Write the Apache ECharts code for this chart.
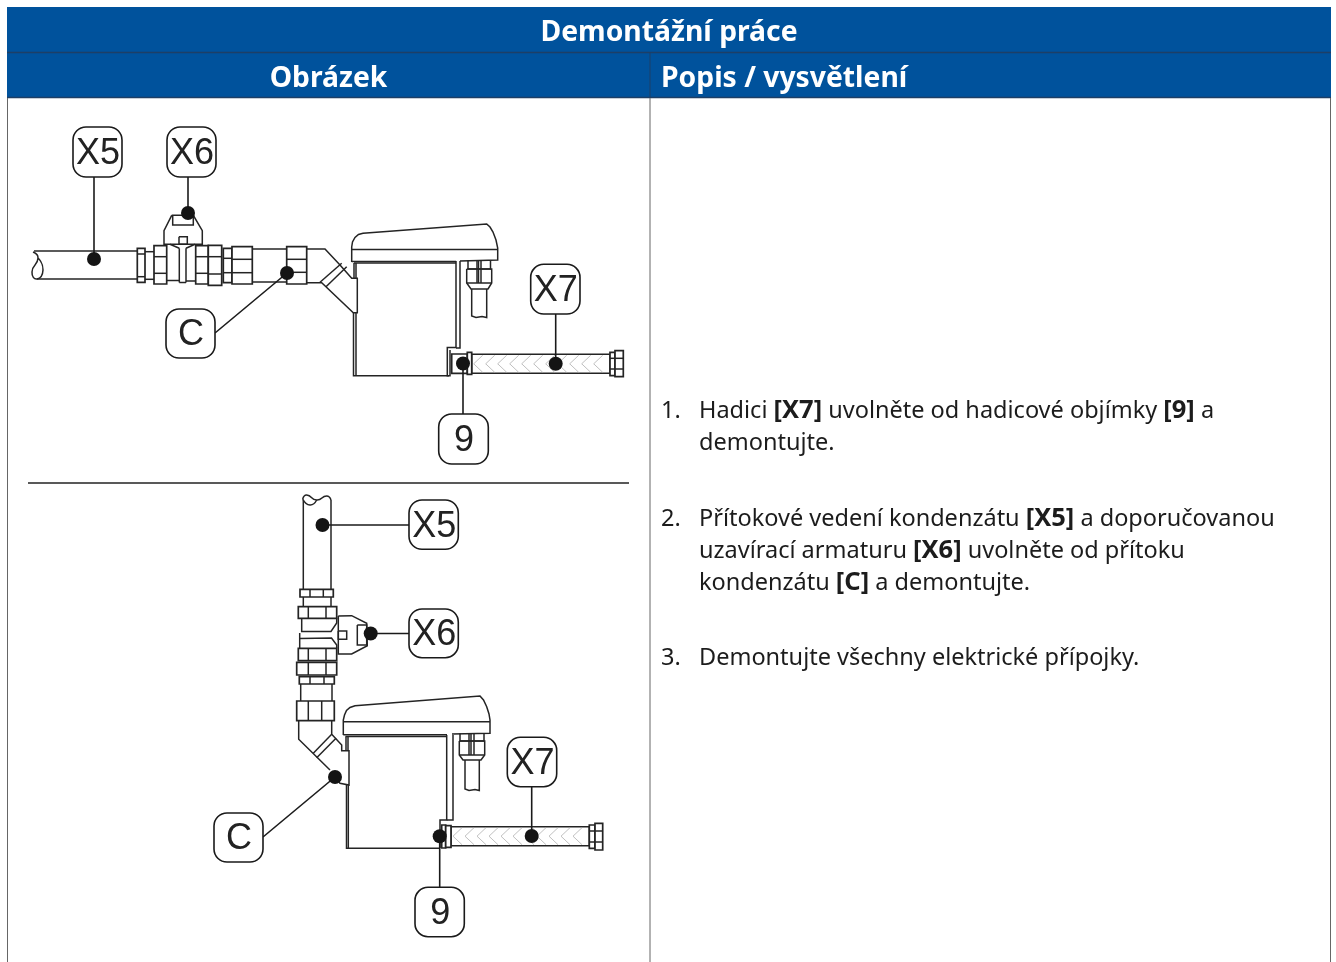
<!DOCTYPE html>
<html><head><meta charset="utf-8">
<style>html,body{margin:0;padding:0;background:#fff}#c{width:1336px;height:962px}</style>
<script src="https://cdn.jsdelivr.net/npm/echarts@6/dist/echarts.min.js"></script>
</head><body><div id="c"></div>
<script>
const headerBands = [[7,7,1331,52],[7,52,1331,98]];
const tableRules = [
  {p:[[7,52.5],[1331,52.5]],c:'#1d3f66',w:1.5},
  {p:[[7,97.5],[1331,97.5]],c:'#1d3f66',w:1.5},
  {p:[[650,52],[650,98]],c:'#1d3f66',w:1},
  {p:[[7.5,98],[7.5,962]],c:'#666',w:1},
  {p:[[650,98],[650,962]],c:'#666',w:1},
  {p:[[1330.5,98],[1330.5,962]],c:'#666',w:1},
  {p:[[28,483],[629,483]],c:'#222',w:1.3}
];
const headerTexts = [
  ['Demontážní práce',669,33,'center'],
  ['Obrázek',328.5,79,'center'],
  ['Popis / vysvětlení',661,79,'left']
];
const stepNumbers = [['1.',661,411],['2.',661,519],['3.',661,658]];
const stepLines = [
  ['Hadici {b|[X7]} uvolněte od hadicové objímky {b|[9]} a',699,411],
  ['demontujte.',699,443],
  ['Přítokové vedení kondenzátu {b|[X5]} a doporučovanou',699,519],
  ['uzavírací armaturu {b|[X6]} uvolněte od přítoku',699,551],
  ['kondenzátu {b|[C]} a demontujte.',699,583],
  ['Demontujte všechny elektrické přípojky.',699,658]
];
// fittings: x0,y0,x1,y1, horizontal cuts, vertical cuts
const fittings = [
  [137.3,248.3,145,282.3,[254,276.7],[]],
  [154,245.7,166.7,284,[256.7,273.3],[]],
  [195.7,245.7,208.3,284,[256.7,273.3],[]],
  [208.3,245.3,221.7,285.3,[256.7,274],[]],
  [223.3,248.3,232,282.7,[258.3,272.7],[]],
  [232,246.7,252.3,284,[259.3,272.7],[]],
  [286.7,246.7,306.7,284,[259.3,272.3],[]],
  [300,589.3,333.3,597,[],[310,323.3]],
  [298.3,606.7,336.7,618.3,[],[308.3,326]],
  [298.3,648.3,336.7,660.7,[],[308.3,326]],
  [296.7,662.3,336.7,675,[],[308.3,326]],
  [299.3,676.7,334.3,684,[],[310,324]],
  [296.7,701,334.3,720.7,[],[308.3,321.7]],
  [451.7,354,467.3,373.3,[],[]],
  [467.3,352.3,471.7,374.3,[],[]],
  [610,352.3,615,375.7,[358.3,369],[]],
  [615,350.7,623.3,376.7,[358.3,369],[]],
  [441.7,825,445.7,848,[],[]],
  [445.7,825.7,451,847.3,[],[]],
  [589.3,825,595,848.3,[831,842],[]],
  [595,823.3,602.7,850,[831,842],[]]
];
const outlinePaths = [
  // upper drawing: pipe and connectors
  [[34,251],[137,251]],[[37,279],[137,279]],
  [[145,251.7],[154,251.7]],[[145,279.3],[154,279.3]],
  [[252.3,249],[286.7,249]],[[252.3,282],[286.7,282]],
  // valve
  [[166.7,280.5],[179.3,280.5]],[[186,281],[195.7,281]],
  [[179.3,282.5],[186,282.5]],[[179.3,248.3],[179.3,282.5]],[[186,248.3],[186,282.5]],
  [[170,244.3],[179.3,248.3]],[[195,244.3],[186,248.3]],
  [[171.7,215.3],[193.3,215.3],[202.3,230.7],[202.3,244.3],[164,244.3],[164,230.7],[171.7,215.3]],
  [[172.7,215.3],[172.7,225],[193.3,225],[193.3,215.3]],
  [[179,236.7],[187.3,236.7],[187.3,244.3],[179,244.3],[179,236.7]],
  // elbow
  [[306.7,249],[325,249],[340,265],[351.7,278.3],[357.3,278.3],[357.3,312.7],[353.3,312.7],[321.7,282.7],[306.7,282.7]],
  [[320,282.3],[341.7,263.3]],[[326,286.7],[346.7,266.7]],
  // upper box
  [[351.7,262],[351.7,247],[352.5,242],[355,237.5],[358.5,234.5],[363,233.3],[486.7,224],[490,227],[493,232],[496,240],[497.7,248],[497.7,260],[460,261]],
  [[351.7,249.5],[497.7,249.5]],
  [[351.7,261.5],[456,261.5]],[[354,263],[456,263]],
  [[354,263],[354,278.3]],[[356,263],[356,278.3]],
  [[353.5,312.7],[353.5,375.7],[449,375.7]],[[356,312.7],[356,375.7]],
  [[456,261],[456,347.5],[447.3,347.5],[447.3,375.7],[450,375.7],[450,350]],
  [[460,261],[460,348],[456,348]],
  // upper gland and cable
  [[468,260.5],[468,269],[490.5,269],[490.5,260.5]],
  [[466.7,269],[491.7,269],[491.7,283],[488,289],[471,289],[466.7,283],[466.7,269]],[[466.7,283],[491.7,283]],
  [[477,260.5],[477,283]],[[478.5,260.5],[478.5,283]],[[481,260.5],[481,283]],
  [[471.7,289],[471.7,316],[476,317.5],[482,316.5],[486.7,317.5],[486.7,289]],
  // lower drawing: connectors and valve neck
  [[303.3,500],[303.3,589.3]],[[331,500],[331,589.3]],
  [[303.3,597],[303.3,606.7]],[[331,597],[331,606.7]],
  [[301.7,618.3],[301.7,631.5],[331,631.5],[336.7,623],[336.7,618.3]],
  [[299.7,633],[299.7,648.3]],[[300,638.5],[331.5,638],[336.7,645],[336.7,648.3]],
  [[300.7,684],[300.7,701]],[[332,684],[332,701]],
  [[338.3,616],[351.7,615.7],[366.7,623.3],[367.3,645.7],[351.7,654],[338.3,654],[338.3,616]],
  [[357.3,625],[366.7,625],[366.7,645],[357.3,645],[357.3,625]],
  [[338.3,631],[346.7,631],[346.7,639.3],[338.3,639.3],[338.3,631]],
  // lower elbow
  [[298.7,720.7],[298.7,739.3],[330,770]],[[331.7,720.7],[331.7,734.3],[341.7,745],[341.7,750.7],[349,750.7],[349,785],[340,783.3],[335,777]],
  [[313.3,753.3],[331.7,734.3]],[[316.7,757.7],[336,738.3]],
  // lower box
  [[343.3,735],[343.3,720],[344.5,715],[346.5,710.5],[350,707.5],[355,705.7],[480,696],[483.5,700],[486.7,706.7],[489,714],[490,720],[490,733.3],[452,734]],
  [[343.3,721.7],[490,721.7]],
  [[343.3,734.7],[447,734.7]],[[345.5,736.5],[447,736.5]],
  [[346,736.5],[346,750.7]],[[348,736.5],[348,750.7]],
  [[346.5,785],[346.5,848.3],[440,848.3]],[[348.3,785],[348.3,848.3]],
  [[446.7,735],[446.7,820],[440,820],[440,848]],
  [[453,735],[453,820],[446.7,820]],
  // lower gland and cable
  [[460,733.5],[460,741],[484,741],[484,733.5]],
  [[459.3,741],[484.7,741],[484.7,755],[481,760],[463,760],[459.3,755],[459.3,741]],[[459.3,755],[484.7,755]],
  [[469,733.5],[469,755]],[[471,733.5],[471,755]],[[474,733.5],[474,755]],
  [[465,760],[465,789],[469,790.5],[475,789.5],[479.3,790.5],[479.3,760]]
];
const curvedPaths = [
  [[33,252],[38,258],[32,272],[37,279],[43,270],[38,258]],
  [[302.7,499],[306.7,495],[316.7,500],[326.7,496],[331,500]],
  [[302.7,499],[310,505],[316.7,500]]
];
const hoseRuns = [[471.7,354.3,610,373.3],[451,826.7,589.3,845.7]];
const calloutBoxes = [
  ['X5',73,127,122,177],['X6',167,127,216,177],['C',166,309,215,358],['X7',530.7,264.3,580,314],['9',438.7,414,488.3,464],
  ['X5',409,500,458.3,549.3],['X6',409,609,458.3,657.7],['C',214,813,263,862],['X7',507.3,737.3,556.7,786.7],['9',415,887.3,464.3,936.7]
];
const leaderLines = [
  [[94,177],[94,259]],[[188,177],[188,213]],[[215,333],[287,273]],[[555.7,314],[555.7,363.7]],[[463,414],[463,364]],
  [[409,525],[322.5,525]],[[409,633.5],[370.7,633.5]],[[263,837],[335,777]],[[531.7,786.7],[531.7,836]],[[439.7,887.3],[439.7,836.3]]
];
const leaderDots = [[94,259],[188,213],[287,273],[555.7,363.7],[463,363.5],[322.5,525],[370.7,633.5],[335,777],[531.7,836],[439.7,836.3]];

const BLUE='#00529c', INK='#242424', BODY='#1c1c1c', UI='"Noto Sans"', CALL='"Liberation Sans"';
const BODYSIZE=23.5, BOLDSIZE=25.5, HEADSIZE=28.3;
const poly=(api,pts,style,smooth)=>({type:'polyline',shape:{points:pts.map(p=>api.coord(p)),smooth:smooth||0},style:Object.assign({fill:null,stroke:INK,lineWidth:1.5},style),silent:true});
const rectOf=(api,a,b,c,d,style,r)=>{const p=api.coord([a,b]),q=api.coord([c,d]);return {type:'rect',shape:{x:p[0],y:p[1],width:q[0]-p[0],height:q[1]-p[1],r:r||0},style};};
const txt=(api,t,x,y,style)=>{const p=api.coord([x,y]);return {type:'text',x:p[0],y:p[1],style:Object.assign({text:t,verticalAlign:'middle'},style),silent:true};};
const layer=(name,arr,fn)=>({type:'custom',name,coordinateSystem:'cartesian2d',data:arr.map(()=>[0,0]),silent:true,animation:false,encode:{x:0,y:1},renderItem:(p,api)=>fn(api,arr[p.dataIndex])});

const option={
  animation:false,backgroundColor:'#fff',
  grid:{left:0,right:0,top:0,bottom:0},
  xAxis:{type:'value',min:0,max:1336,show:false},
  yAxis:{type:'value',min:0,max:962,inverse:true,show:false},
  series:[
    layer('bands',headerBands,(api,b)=>rectOf(api,b[0],b[1],b[2],b[3],{fill:BLUE})),
    layer('rules',tableRules,(api,r)=>poly(api,r.p,{stroke:r.c,lineWidth:r.w})),
    layer('heads',headerTexts,(api,t)=>txt(api,t[0],t[1],t[2],{align:t[3],fill:'#fff',fontFamily:UI,fontWeight:'bold',fontSize:HEADSIZE})),
    layer('nums',stepNumbers,(api,t)=>txt(api,t[0],t[1],t[2],{fill:BODY,fontFamily:UI,fontSize:BODYSIZE})),
    layer('steps',stepLines,(api,t)=>txt(api,t[0],t[1],t[2],{fill:BODY,fontFamily:UI,fontSize:BODYSIZE,rich:{b:{fontWeight:'bold',fontFamily:UI,fontSize:BOLDSIZE,fill:BODY}}})),
    layer('outlines',outlinePaths,(api,p)=>poly(api,p,{})),
    layer('curves',curvedPaths,(api,p)=>poly(api,p,{},0.6)),
    layer('hoses',hoseRuns,(api,h)=>{
      const kids=[rectOf(api,h[0],h[1],h[2],h[3],{fill:'#fff',stroke:INK,lineWidth:1.5})];
      const mid=(h[1]+h[3])/2;
      for(let x=h[0]+2;x<h[2]-12;x+=12){
        kids.push(poly(api,[[x+9,h[1]+1],[x,mid],[x+9,h[3]-1]],{stroke:'#b0b0b0',lineWidth:0.8}));
      }
      return {type:'group',children:kids};
    }),
    layer('fittings',fittings,(api,f)=>{
      const kids=[rectOf(api,f[0],f[1],f[2],f[3],{fill:'#fff',stroke:INK,lineWidth:1.7})];
      f[4].forEach(y=>kids.push(poly(api,[[f[0],y],[f[2],y]],{})));
      f[5].forEach(x=>kids.push(poly(api,[[x,f[1]],[x,f[3]]],{})));
      return {type:'group',children:kids};
    }),
    layer('leaders',leaderLines,(api,p)=>poly(api,p,{stroke:'#1a1a1a',lineWidth:1.6})),
    layer('callouts',calloutBoxes,(api,c)=>({type:'group',children:[
      rectOf(api,c[1],c[2],c[3],c[4],{fill:'#fff',stroke:'#1a1a1a',lineWidth:1.6},13),
      txt(api,c[0],(c[1]+c[3])/2+0.5,(c[2]+c[4])/2+2,{align:'center',fill:'#222',fontFamily:CALL,fontSize:36})
    ]})),
    {type:'scatter',name:'dots',data:leaderDots,symbol:'circle',symbolSize:14,itemStyle:{color:'#141414',opacity:1},silent:true,animation:false,z:5}
  ]
};
echarts.init(document.getElementById('c'),null,{renderer:'canvas'}).setOption(option);
</script></body></html>
